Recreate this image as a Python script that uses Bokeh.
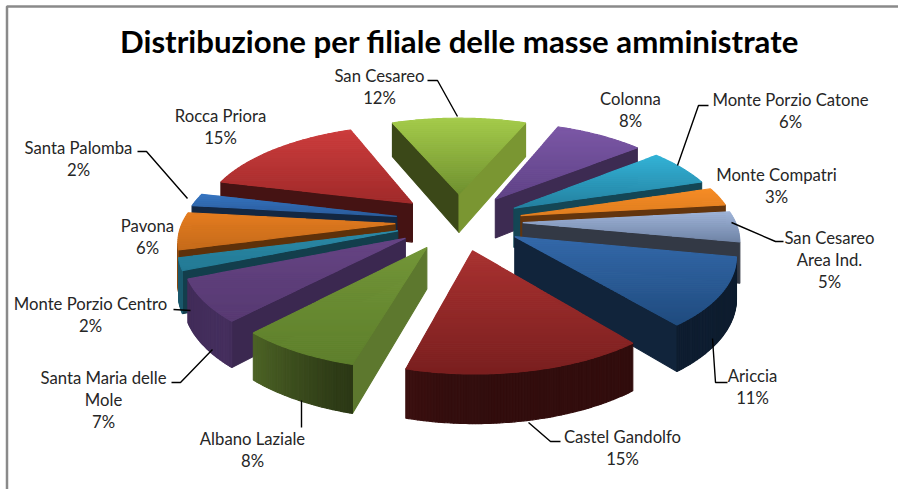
import numpy as np
from bokeh.plotting import figure
from bokeh.embed import file_html
from bokeh.resources import INLINE
from bokeh.core.properties import value

title = "Distribuzione per filiale delle masse amministrate"
filiali = ["San Cesareo", "Colonna", "Monte Porzio Catone", "Monte Compatri",
           "San Cesareo\nArea Ind.", "Ariccia", "Castel Gandolfo", "Albano Laziale",
           "Santa Maria delle\nMole", "Monte Porzio Centro", "Pavona", "Santa Palomba",
           "Rocca Priora"]
quote = [12.1, 8.0, 6.1, 3.0, 5.0, 11.1, 15.0, 7.6, 6.9, 2.0, 6.1, 2.1, 15.0]
top_light = ["#a4cb4a", "#7c58a6", "#33b2d6", "#f68c26", "#9fb4d8", "#3469aa", "#a93231",
             "#739638", "#664484", "#2b8aa8", "#e47c20", "#3674c0", "#cc3d3d"]
top_dark = ["#6f9030", "#5f4286", "#24809f", "#e07e20", "#6f83a5", "#204c7e", "#7a1f1f",
            "#5e7f2c", "#573a72", "#237a94", "#c56a1a", "#2a5c9c", "#a02a2a"]
base = ["#9cc040", "#7c58a6", "#2f9fc0", "#f08020", "#8898b8", "#2e5f9c", "#a02c2c",
        "#76983a", "#66458a", "#2b8aa8", "#d87018", "#3368b0", "#b83434"]

# label layout: centre x, y of the first line
label_pos = [(379, 75), (630, 98), (790, 99), (776, 174), (829, 237), (752, 375), (622, 436),
             (252, 438), (103, 377), (90, 303), (147, 225), (78, 147), (220, 115)]
leaders = [[(427, 80), (437, 80), (457, 116)], [],
           [(677, 165), (698, 105), (708, 105)], [],
           [(731, 222), (775, 241), (783, 241)],
           [(712, 338), (715, 382), (727, 382)],
           [(528, 422), (550, 441), (560, 441)],
           [(301, 400), (301, 427)],
           [(171, 382), (180, 382), (212, 349)],
           [(173, 309), (190, 310)], [],
           [(137, 151), (146, 151), (187, 198)], []]

W, H = 898, 489
CX, CY, RX, RY = 458.5, 221.0, 212.5, 95.0
PERSP, EXPL, THICK = 0.15, 0.30, 40.0


def project(X, Y, drop=0.0):
    f = 1.0 / (1.0 - PERSP * Y)
    return CX + RX * X * f, CY + RY * Y * f + drop * f


def shade(hexc, k):
    r, g, b = (int(hexc[i:i + 2], 16) for i in (1, 3, 5))
    return "#%02x%02x%02x" % (int(r * k), int(g * k), int(b * k))


def mix(a, b, t):
    ca = [int(a[i:i + 2], 16) for i in (1, 3, 5)]
    cb = [int(b[i:i + 2], 16) for i in (1, 3, 5)]
    return "#%02x%02x%02x" % tuple(int(x + (y - x) * t) for x, y in zip(ca, cb))


def clip_y(poly, ymin, ymax):
    def clip(pts, inside, yb):
        out = []
        for i in range(len(pts)):
            a, b = pts[i], pts[(i + 1) % len(pts)]
            ia, ib = inside(a), inside(b)
            if ia:
                out.append(a)
            if ia != ib:
                t = (yb - a[1]) / (b[1] - a[1])
                out.append((a[0] + t * (b[0] - a[0]), yb))
        return out
    p1 = clip(poly, lambda q: q[1] >= ymin, ymin)
    return clip(p1, lambda q: q[1] <= ymax, ymax) if p1 else []


def wrap(d):
    return (d + 180) % 360 - 180


p = figure(width=W, height=H, x_range=(0, W), y_range=(H, 0), output_backend="svg",
           toolbar_location=None, min_border=0, outline_line_color=None)
p.axis.visible = False
p.grid.visible = False
p.styles = {"position": "absolute", "left": "0px", "top": "0px"}

# frame
p.line([6.5, 6.5, W], [H, 6, 6], line_color="#8a8a8a", line_width=2.5)

total = sum(quote)
starts = np.cumsum([0] + quote[:-1]) / total * 360 - quote[0] / total * 180
spans = np.array(quote) / total * 360
mids = starts + spans / 2

polys = {"x": [], "y": [], "c": []}


def add(pts, col):
    polys["x"].append([q[0] for q in pts])
    polys["y"].append([q[1] for q in pts])
    polys["c"].append(col)


# angles are measured clockwise from the back of the pie; Y grows towards the viewer
order = np.argsort([-np.cos(np.radians(m)) for m in mids])
for i in order:
    a0, a1 = starts[i], starts[i] + spans[i]
    m = np.radians(mids[i])
    ox, oy = EXPL * np.sin(m), -EXPL * np.cos(m)
    n = max(8, int(spans[i] * 1.5))
    ts = np.radians(np.linspace(a0, a1, n + 1))
    rim = [(ox + np.sin(t), oy - np.cos(t)) for t in ts]
    tip = (ox, oy)

    # radial walls
    for (edge, normal, sgn) in ((rim[0], a0 - 90, 1), (rim[-1], a1 + 90, -1)):
        a, b = project(*tip), project(*edge)
        c, d = project(*edge, THICK), project(*tip, THICK)
        area = sum(u[0] * v[1] - v[0] * u[1] for u, v in zip([a, b, c, d], [b, c, d, a]))
        if area * sgn > 0:
            continue
        k = np.interp(wrap(normal), [-180, -110, 90, 115, 140, 180],
                      [.38, .38, .82, .78, .5, .4])
        add([a, b, c, d], shade(base[i], float(k)))

    # outer wall
    for j in range(n):
        a, b = project(*rim[j]), project(*rim[j + 1])
        if b[0] > a[0]:
            continue
        tm = (np.degrees(ts[j]) + np.degrees(ts[j + 1])) / 2 % 360
        k = float(np.interp(tm, [90, 185, 200, 225, 270, 300], [.3, .32, .4, .68, .62, .55]))
        add([a, b, project(*rim[j + 1], THICK), project(*rim[j], THICK)], shade(base[i], k))

    # top with vertical shading, strip by strip
    top = [project(*tip)] + [project(*q) for q in rim]
    ys = [q[1] for q in top]
    y0, y1 = min(ys), max(ys)
    edges = np.linspace(y0, y1, max(3, int((y1 - y0) / 2)) + 1)
    for e0, e1 in zip(edges[:-1], edges[1:]):
        part = clip_y(top, e0, e1)
        if len(part) >= 3:
            add(part, mix(top_light[i], top_dark[i], float((e0 - y0) / (y1 - y0))))

p.patches(polys["x"], polys["y"], fill_color=polys["c"], line_color=polys["c"], line_width=1.1)

for seg in leaders:
    if seg:
        p.line([q[0] for q in seg], [q[1] for q in seg], line_color="#000000", line_width=1.4)

tx, ty, tt = [], [], []
for name, q, (lx, ly) in zip(filiali, quote, label_pos):
    lines = name.split("\n") + [f"{round(q)}%"]
    for k, s in enumerate(lines):
        tx.append(lx)
        ty.append(ly + 22 * k)
        tt.append(s)
p.text(tx, ty, text=tt, text_font=value("Lato"), text_font_size="16.7px", text_color="#262626",
       text_align="center", text_baseline="middle")
p.text([459], [40], text=[title], text_font=value("Lato"), text_font_size="31.2px",
       text_font_style="bold", text_color="#000000", text_align="center", text_baseline="middle")

open("out.html", "w").write(file_html(p, INLINE))
